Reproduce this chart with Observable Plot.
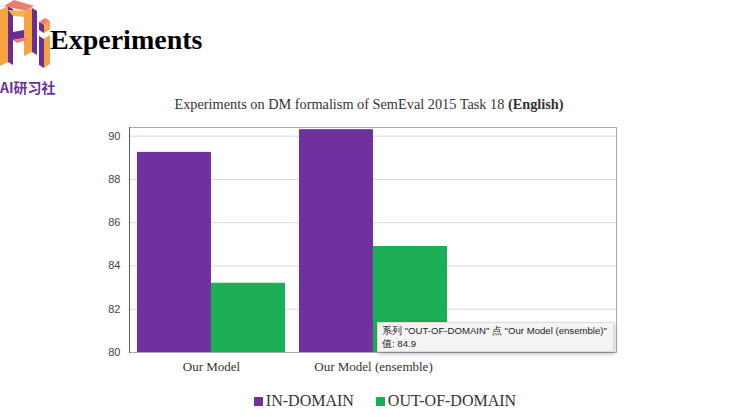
<!DOCTYPE html>
<html>
<head>
<meta charset="utf-8">
<script src="https://cdn.jsdelivr.net/npm/d3@7"></script>
<script src="https://cdn.jsdelivr.net/npm/@observablehq/plot@0.6"></script>
<style>
  html, body { margin: 0; padding: 0; background: #fff; }
  #page { position: relative; width: 740px; height: 417px; overflow: hidden; background: #fff; }
  #head { position: absolute; left: 50px; top: 24px; font-family: "Liberation Serif", serif; font-weight: bold; font-size: 28px; color: #000; }
  #brand { position: absolute; left: 0px; top: 77px; font-family: "Noto Sans CJK SC", sans-serif; font-weight: bold; font-size: 14px; color: #6b2fa0; }
  #logo { position: absolute; left: 0; top: 0; }
  #ctitle { position: absolute; left: 0; width: 738px; top: 96px; text-align: center; font-family: "Liberation Serif", serif; font-size: 14.3px; color: #333; }
  #chart { position: absolute; left: 0; top: 117px; }
  #legend { position: absolute; left: 0; width: 770px; top: 392px; display: flex; justify-content: center; gap: 22px; font-family: "Liberation Serif", serif; font-size: 16px; color: #333; }
  #legend .item { display: flex; align-items: center; gap: 3px; }
  #legend .sw { width: 9px; height: 9px; display: inline-block; }
  #tip { position: absolute; left: 377px; top: 322px; height: 27px; padding: 1px 6px 0 4px; background: #f4f4f4; border: 1px solid #ddd; box-shadow: 1px 2px 4px rgba(0,0,0,0.25); font-family: "Liberation Sans", sans-serif; font-size: 9.6px; line-height: 13px; color: #222; white-space: nowrap; }
</style>
</head>
<body>
<div id="page">
  <svg id="logo" width="50" height="75" viewBox="0 0 50 75">
    <polygon points="0,10 8,6 8,62 0,66" fill="#f4a340"/>
    <polygon points="8,6 13,9 13,65 8,62" fill="#6a2d91"/>
    <polygon points="4,6 14,0 34,6 26,11" fill="#f07c70"/>
    <polygon points="8,10 26,11 26,17 13,16" fill="#f4b447"/>
    <polygon points="24,12 32,8 32,52 24,56" fill="#f4a340"/>
    <polygon points="32,8 37,11 37,55 32,52" fill="#6a2d91"/>
    <polygon points="13,32 24,30 24,38 13,40" fill="#6a2d91"/>
    <polygon points="13,40 24,38 28,40 17,43" fill="#f07c70"/>
    <polygon points="39,22 45,18 50,21 44,25" fill="#f07c70"/>
    <polygon points="39,22 44,25 44,33 39,30" fill="#6a2d91"/>
    <polygon points="44,25 50,21 50,29 44,33" fill="#f4a340"/>
    <polygon points="39,36 44,39 44,68 39,65" fill="#6a2d91"/>
    <polygon points="44,39 50,35 50,64 44,68" fill="#f4a340"/>
  </svg>
  <div id="head">Experiments</div>
  <div id="brand">AI研习社</div>
  <div id="ctitle">Experiments on DM formalism of SemEval 2015 Task 18 <b>(English)</b></div>
  <div id="chart"></div>
  <div id="legend"></div>
  <div id="tip">系列 "OUT-OF-DOMAIN" 点 "Our Model (ensemble)"<br>值: 84.9</div>
</div>
<script>
// ---- data ----
const categories = ["Our Model", "Our Model (ensemble)", ""];
const series = ["IN-DOMAIN", "OUT-OF-DOMAIN"];
const inDomain = [89.25, 90.3];
const outDomain = [83.2, 84.9];
const yTicks = [80, 82, 84, 86, 88, 90];
const yMax = 90.4;
const colors = ["#7030a0", "#1bae55"];

const rows = [];
categories.slice(0, 2).forEach((c, i) => {
  rows.push({category: c, series: series[0], value: inDomain[i]});
  rows.push({category: c, series: series[1], value: outDomain[i]});
});

// ---- layout ----
const W = 740, H = 265;
const mL = 129, mR = 124, mT = 10, mB = 30;
const pInner = 0.088, pOuter = 0.044;
const bw = (W - mL - mR) / categories.length * (1 - pInner);
const half = bw / 2;

const chart = Plot.plot({
  width: W,
  height: H,
  marginLeft: mL,
  marginRight: mR,
  marginTop: mT,
  marginBottom: mB,
  style: {fontFamily: "Liberation Sans, sans-serif", background: "transparent"},
  x: {domain: categories, paddingInner: pInner, paddingOuter: pOuter, label: null, tickSize: 0, tickPadding: 9},
  y: {domain: [yTicks[0], yMax], ticks: yTicks, label: null, tickSize: 0, tickPadding: 9},
  color: {domain: series, range: colors},
  marks: [
    Plot.gridY(yTicks.slice(1), {stroke: "#d9d9d9", strokeOpacity: 1}),
    Plot.frame({stroke: "#a4adb6"}),
    Plot.barY(rows.filter(d => d.series === series[0]), {x: "category", y1: () => yTicks[0], y2: "value", fill: "series", insetRight: half}),
    Plot.barY(rows.filter(d => d.series === series[1]), {x: "category", y1: () => yTicks[0], y2: "value", fill: "series", insetLeft: half}),
    Plot.frame({anchor: "left", stroke: "#4f5d6b"}),
    Plot.axisY({ticks: yTicks, tickSize: 0, tickPadding: 9, fontSize: 11, fill: "#444", label: null}),
    Plot.axisX({tickSize: 0, tickPadding: 9, fontSize: 13, fill: "#333", fontFamily: "Liberation Serif, serif", label: null})
  ]
});
document.getElementById("chart").appendChild(chart);

// ---- legend ----
const lg = document.getElementById("legend");
series.forEach((s, i) => {
  const it = document.createElement("div");
  it.className = "item";
  const sw = document.createElement("span");
  sw.className = "sw";
  sw.style.background = colors[i];
  it.appendChild(sw);
  it.appendChild(document.createTextNode(s));
  lg.appendChild(it);
});
</script>
</body>
</html>
